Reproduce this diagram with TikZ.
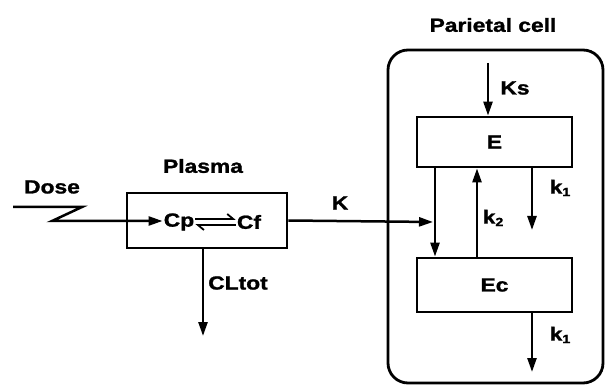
\documentclass[tikz,border=0pt]{standalone}
\usepackage{fontspec}
\setmainfont{Liberation Sans}[BoldFeatures={FakeBold=1.2}]
\usepackage{graphicx}
\usetikzlibrary{arrows.meta,positioning,calc}
\newcommand{\wide}[1]{\scalebox{1.2}[1]{#1}}
\newcommand{\sub}[1]{\raisebox{-0.25ex}{\fontsize{12}{12}\selectfont #1}}

\begin{document}
\begin{tikzpicture}[x=1pt,y=-1pt,line width=2.5pt,
  font=\bfseries\fontsize{19}{21}\selectfont,
  >={Triangle[length=14pt,width=9pt]},
  box/.style={draw,line width=2.8pt,rectangle,inner sep=0pt},
  lbl/.style={inner sep=0pt}]
  \useasboundingbox (0,0) rectangle (606,385);
  \node[box,rounded corners=20pt,minimum width=215pt,minimum height=333pt] (cell) at (495.5,216.5) {};
  \node[box,minimum width=160pt,minimum height=55pt] (plasma) at (207,220.5) {};
  \node[box,minimum width=155pt,minimum height=50pt] (E) at (494.5,142) {\wide{E}};
  \node[box,minimum width=155pt,minimum height=54pt] (Ec) at (494.5,285) {\wide{Ec}};
  \node[lbl] (cp) at (179,222) {\wide{Cp}};
  \node[lbl] (cf) at (249,222) {\wide{Cf}};
  \node[lbl] (plasmaLbl) at (203,166) {\wide{Plasma}};
  \node[lbl] (cellLbl) at (493,25) {\wide{Parietal cell}};
  \node[lbl] (dose) at (52,187) {\wide{Dose}};
  \node[lbl] (kLbl) at (340,203) {\wide{K}};
  \node[lbl] (ksLbl) at (515,88) {\wide{Ks}};
  \node[lbl] (k2Lbl) at (493,218) {\wide{k\sub{2}}};
  \node[lbl] (k1a) at (560,188) {\wide{k\sub{1}}};
  \node[lbl] (k1b) at (560,335) {\wide{k\sub{1}}};
  \node[lbl] (clLbl) at (238,283) {\wide{CLtot}};
  % free ends
  \coordinate (d0) at (13,207); \coordinate (d1) at (82,207); \coordinate (d2) at (52,221);
  \coordinate (kEnd) at (433,222);
  \coordinate (ksTop) at (488,63);
  \coordinate (k1aEnd) at (532,230);
  \coordinate (k1bEnd) at (532,372);
  \coordinate (clEnd) at (203,336);
  % dose input
  \draw[->] (d0) -- (d1) -- (d2) -- (d2 -| cp.west);
  \draw[line width=1.8pt,-{Straight Barb[harpoon,length=6pt,width=10pt]}] ([yshift=3pt]cp.east) -- ([yshift=3pt]cf.west);
  \draw[line width=1.8pt,-{Straight Barb[harpoon,length=6pt,width=10pt]}] ([yshift=-3pt]cf.west) -- ([yshift=-3pt]cp.east);
  \draw[->] (plasma.south -| clEnd) -- (clEnd);
  \draw[->] (plasma.east) -- (kEnd);
  \draw[->] (E.south -| 435,0) -- (Ec.north -| 435,0);
  \draw[->] (Ec.north -| 477,0) -- (E.south -| 477,0);
  \draw[->] (ksTop) -- (E.north -| ksTop);
  \draw[->] (E.south -| k1aEnd) -- (k1aEnd);
  \draw[->] (Ec.south -| k1bEnd) -- (k1bEnd);
\end{tikzpicture}
\end{document}
